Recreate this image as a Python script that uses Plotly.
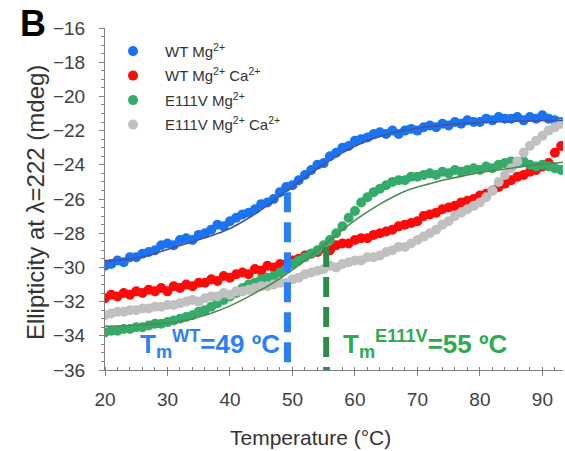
import plotly.graph_objects as go

# ---------------- data ----------------
temps = list(range(20, 94))

wt_mg = [-29.9, -29.8, -29.6, -29.7, -29.4, -29.4, -29.2, -29.1, -29.0, -28.7,
         -28.6, -28.7, -28.4, -28.3, -28.4, -28.1, -28.0, -27.8, -27.5, -27.6,
         -27.3, -27.1, -26.9, -26.8, -26.6, -26.3, -26.2, -26.0, -25.6, -25.3,
         -25.2, -24.9, -24.6, -24.3, -24.0, -23.9, -23.5, -23.3, -23.0, -22.9,
         -22.6, -22.5, -22.4, -22.2, -22.1, -22.2, -22.0, -22.2, -22.0, -21.9,
         -22.0, -21.8, -21.7, -21.8, -21.6, -21.7, -21.5, -21.6, -21.4, -21.5,
         -21.5, -21.3, -21.4, -21.2, -21.3, -21.3, -21.2, -21.4, -21.2, -21.3,
         -21.1, -21.3, -21.4, -21.5]

wt_mg_ca = [-31.8, -31.6, -31.7, -31.5, -31.6, -31.4, -31.5, -31.3, -31.4, -31.2,
            -31.4, -31.1, -31.2, -31.0, -31.1, -30.9, -30.9, -30.7, -30.8, -30.5,
            -30.6, -30.4, -30.3, -30.4, -30.1, -30.2, -29.9, -30.0, -29.8, -29.8,
            -29.6, -29.5, -29.3, -29.2, -29.1, -28.9, -29.0, -28.7, -28.6, -28.6,
            -28.4, -28.3, -28.3, -28.1, -28.0, -27.9, -27.8, -27.6, -27.5, -27.4,
            -27.3, -27.0, -26.9, -26.8, -26.6, -26.5, -26.4, -26.2, -26.1, -26.0,
            -25.8, -25.7, -25.5, -25.3, -25.1, -24.9, -24.7, -24.6, -24.4, -24.3,
            -24.1, -23.9, -23.3, -22.9]

e111v_mg = [-33.8, -33.7, -33.7, -33.6, -33.6, -33.5, -33.5, -33.4, -33.3, -33.3,
            -33.2, -33.1, -33.0, -32.9, -32.8, -32.6, -32.5, -32.3, -32.1, -31.9,
            -31.7, -31.5, -31.2, -31.0, -30.9, -30.7, -30.6, -30.5, -30.3, -30.1,
            -29.8, -29.6, -29.4, -29.2, -29.0, -28.7, -28.4, -28.0, -27.6, -27.1,
            -26.7, -26.2, -25.9, -25.6, -25.4, -25.2, -25.0, -24.9, -24.9, -24.7,
            -24.7, -24.6, -24.5, -24.6, -24.4, -24.5, -24.3, -24.4, -24.3, -24.2,
            -24.3, -24.1, -24.2, -24.0, -23.9, -23.8, -23.9, -23.8, -24.0, -24.1,
            -24.0, -24.1, -24.2, -24.3]

e111v_mg_ca = [-32.8, -32.7, -32.6, -32.6, -32.5, -32.5, -32.4, -32.4, -32.3, -32.3,
               -32.2, -32.2, -32.1, -32.0, -31.9, -32.0, -31.8, -31.7, -31.7, -31.5,
               -31.6, -31.4, -31.4, -31.3, -31.2, -31.1, -31.1, -31.0, -30.9, -30.9,
               -30.7, -30.6, -30.4, -30.3, -30.2, -30.1, -29.9, -30.0, -29.8, -29.7,
               -29.6, -29.6, -29.4, -29.4, -29.3, -29.1, -29.0, -28.8, -28.8, -28.6,
               -28.4, -28.2, -28.0, -27.8, -27.5, -27.3, -27.0, -26.8, -26.6, -26.4,
               -26.2, -25.9, -25.5, -25.0, -24.6, -24.2, -23.8, -23.3, -22.9, -22.6,
               -22.3, -22.0, -21.8, -21.6]

fit_t = [20, 22, 24, 26, 28, 30, 32, 34, 36, 38, 40, 42, 44, 46, 48, 50, 52, 54,
         56, 58, 60, 62, 64, 66, 68, 70, 72, 74, 76, 78, 80, 82, 84, 86, 88, 90,
         92, 93.3]
wt_fit = [-29.6, -29.57, -29.5, -29.38, -29.18, -28.95, -28.72, -28.5, -28.27,
          -28.02, -27.72, -27.33, -26.88, -26.37, -25.83, -25.28, -24.74, -24.22,
          -23.74, -23.3, -22.92, -22.6, -22.34, -22.14, -21.98, -21.86, -21.76,
          -21.68, -21.62, -21.57, -21.53, -21.5, -21.47, -21.45, -21.43, -21.42,
          -21.41, -21.4]
e_fit = [-33.45, -33.43, -33.4, -33.37, -33.32, -33.25, -33.15, -33.0, -32.8,
         -32.55, -32.25, -31.9, -31.5, -31.1, -30.65, -30.15, -29.6, -29.0, -28.4,
         -27.8, -27.25, -26.75, -26.3, -25.9, -25.55, -25.3, -25.1, -24.9, -24.75,
         -24.6, -24.45, -24.35, -24.25, -24.15, -24.05, -23.95, -23.9, -23.85]

tm_wt, tm_wt_top = 49.2, -25.6
tm_e, tm_e_top = 55.4, -28.8
y_bottom = -36

FONT = "Liberation Sans, Arial, sans-serif"

# ---------------- figure ----------------
fig = go.Figure()

series = [
    ("WT Mg<sup>2+</sup>", wt_mg, "#1a73f0"),
    ("WT Mg<sup>2+</sup> Ca<sup>2+</sup>", wt_mg_ca, "#ff0a0a"),
    ("E111V Mg<sup>2+</sup>", e111v_mg, "#35ab6b"),
    ("E111V Mg<sup>2+</sup> Ca<sup>2+</sup>", e111v_mg_ca, "#c0c0c0"),
]
for i, (name, vals, col) in enumerate(series):
    fig.add_trace(go.Scatter(x=temps, y=vals, mode="markers", name=name,
                             legendgroup=f"g{i}",
                             marker=dict(color=col, size=10, line=dict(width=0))))

fig.add_trace(go.Scatter(x=fit_t, y=wt_fit, mode="lines", showlegend=False,
                         line=dict(color="#4b4f9c", width=1.6, shape="spline")))
fig.add_trace(go.Scatter(x=fit_t, y=e_fit, mode="lines", showlegend=False,
                         line=dict(color="#4f8a4f", width=1.6, shape="spline")))

fig.add_trace(go.Scatter(x=[tm_wt, tm_wt], y=[tm_wt_top, y_bottom], mode="lines",
                         showlegend=False,
                         line=dict(color="#2d7ff9", width=7, dash="20px,10px")))
fig.add_trace(go.Scatter(x=[tm_e, tm_e], y=[tm_e_top, y_bottom], mode="lines",
                         showlegend=False,
                         line=dict(color="#2e8b4a", width=6, dash="20px,10px")))

fig.add_annotation(x=48.4, y=-34.5, xref="x", yref="y", xanchor="right",
                   text="T<sub>m</sub><sup>WT</sup>=49 ºC", showarrow=False,
                   font=dict(family=FONT, size=26, color="#2d7ff9", weight="bold"))
fig.add_annotation(x=57.8, y=-34.5, xref="x", yref="y", xanchor="left",
                   text="T<sub>m</sub><sup>E111V</sup>=55 ºC", showarrow=False,
                   font=dict(family=FONT, size=26, color="#2eaa50", weight="bold"))
fig.add_annotation(x=-0.157, y=1.012, xref="paper", yref="paper",
                   xanchor="center", yanchor="middle",
                   text="<b>B</b>", showarrow=False,
                   font=dict(family=FONT, size=36, color="black"))

# axis titles (placed as in the reference, slightly off-centre)
fig.add_annotation(x=0.4476, y=-0.196, xref="paper", yref="paper",
                   xanchor="center", yanchor="middle", showarrow=False,
                   text="Temperature (°C)",
                   font=dict(family=FONT, size=21, color="#333333"))
fig.add_annotation(x=-0.1528, y=0.488, xref="paper", yref="paper",
                   xanchor="center", yanchor="middle", showarrow=False,
                   textangle=-90, text="Ellipticity at λ=222 (mdeg)",
                   font=dict(family=FONT, size=24, color="#333333"))

axis_common = dict(showline=True, linecolor="#808080", linewidth=1,
                   showgrid=False, zeroline=False, ticks="outside",
                   tickcolor="#808080", ticklen=5,
                   tickfont=dict(family=FONT, size=19, color="#404040"))

fig.update_xaxes(range=[20, 93.3], dtick=10, tick0=20, ticklabelstandoff=7,
                 minor=dict(dtick=2, ticks="inside", ticklen=3,
                            tickcolor="#808080"),
                 **axis_common)
fig.update_yaxes(range=[-36, -16], dtick=2, tick0=-36, ticklabelstandoff=10,
                 minor=dict(dtick=0.5, ticks="outside", ticklen=3,
                            tickcolor="#808080"),
                 **axis_common)

fig.update_layout(
    width=565, height=451,
    margin=dict(l=105, r=2, t=28, b=81),
    paper_bgcolor="white", plot_bgcolor="white",
    legend=dict(x=-0.0087, y=0.98, xanchor="left", yanchor="top",
                bgcolor="rgba(0,0,0,0)", tracegroupgap=2, itemwidth=54,
                font=dict(family=FONT, size=15, color="#333333")),
)

fig.write_html("out.html", config={"displayModeBar": False},
               post_script="document.body.style.margin='0';"
                           "document.body.style.overflow='hidden';")
